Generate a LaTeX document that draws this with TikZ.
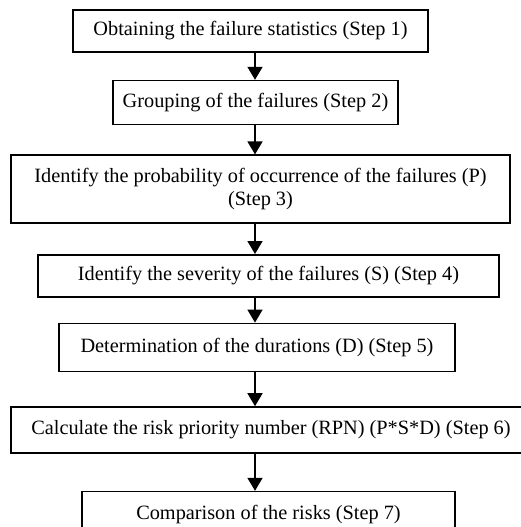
\documentclass[tikz,border=0pt]{standalone}
\usepackage{fontspec}
\setmainfont{Liberation Serif}
\usetikzlibrary{arrows.meta, positioning}

\begin{document}
\begin{tikzpicture}[
    x=1pt, y=1pt,
    stepbox/.style={rectangle, draw, line width=1.6pt, minimum height=44pt, align=center, inner sep=2pt, font=\fontsize{20.3}{22.5}\selectfont},
    arrow/.style={-{Triangle[length=13pt, width=15pt]}, line width=1.6pt}
]
\useasboundingbox (0,0) rectangle (521,-527);

% Steps
\node[stepbox, minimum width=355pt, minimum height=42pt] (obtain) at (250.5,-31) {Obtaining the failure statistics (Step 1)};
\node[stepbox, minimum width=285pt, below=27pt of obtain, xshift=5pt] (grouping) {Grouping of the failures (Step 2)};
\node[stepbox, minimum width=499pt, minimum height=68pt, below=29pt of grouping, xshift=5pt] (probability) {Identify the probability of occurrence of the failures (P)\\(Step 3)};
\node[stepbox, minimum width=461pt, minimum height=42pt, below=30pt of probability, xshift=8pt] (severity) {Identify the severity of the failures (S) (Step 4)};
\node[stepbox, minimum width=396pt, minimum height=48pt, below=25pt of severity, xshift=-11.5pt] (duration) {Determination of the durations (D) (Step 5)};
\node[stepbox, minimum width=520pt, minimum height=46pt, below=34pt of duration, xshift=14pt] (rpn) {Calculate the risk priority number (RPN) (P*S*D) (Step 6)};
\node[stepbox, minimum width=373pt, minimum height=46pt, below=37pt of rpn, xshift=-2.5pt] (compare) {Comparison of the risks (Step 7)};

% Arrows
\coordinate (spine) at (255,0);
\draw[arrow] (obtain.south -| spine) -- (grouping.north -| spine);
\draw[arrow] (grouping.south -| spine) -- (probability.north -| spine);
\draw[arrow] (probability.south -| spine) -- (severity.north -| spine);
\draw[arrow] (severity.south -| spine) -- (duration.north -| spine);
\draw[arrow] (duration.south -| spine) -- (rpn.north -| spine);
\draw[arrow] (rpn.south -| spine) -- (compare.north -| spine);

\end{tikzpicture}
\end{document}
